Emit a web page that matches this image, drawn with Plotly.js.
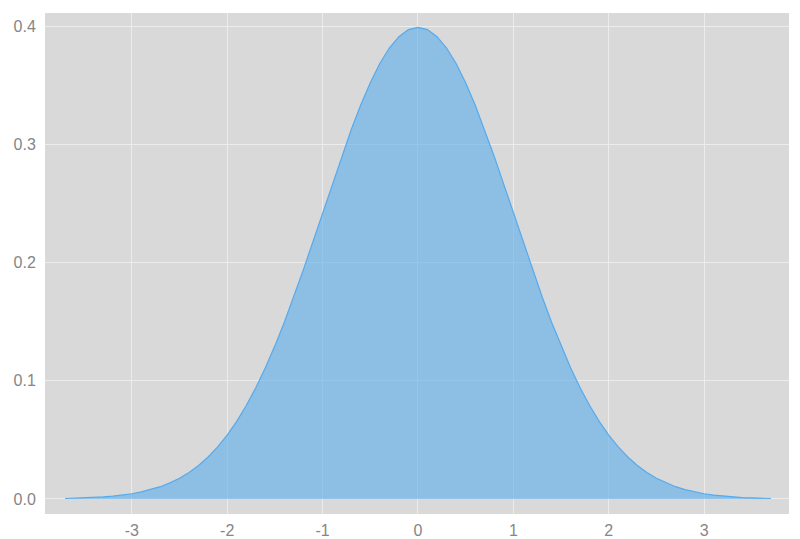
<!DOCTYPE html>
<html>
<head>
<meta charset="utf-8">
<script src="https://cdn.plot.ly/plotly-3.0.1.min.js"></script>
<style>
  html, body { margin: 0; padding: 0; background: #fff; }
  #chart { width: 800px; height: 539px; }
</style>
</head>
<body>
<div id="chart"></div>
<script>
// sample points
const xs = [
  -3.7, -3.6, -3.5, -3.4, -3.3, -3.2, -3.1, -3.0, -2.9, -2.8,
  -2.7, -2.6, -2.5, -2.4, -2.3, -2.2, -2.1, -2.0, -1.9, -1.8,
  -1.7, -1.6, -1.5, -1.4, -1.3, -1.2, -1.1, -1.0, -0.9, -0.8,
  -0.7, -0.6, -0.5, -0.4, -0.3, -0.2, -0.1, 0.0, 0.1, 0.2,
  0.3, 0.4, 0.5, 0.6, 0.7, 0.8, 0.9, 1.0, 1.1, 1.2,
  1.3, 1.4, 1.5, 1.6, 1.7, 1.8, 1.9, 2.0, 2.1, 2.2,
  2.3, 2.4, 2.5, 2.6, 2.7, 2.8, 2.9, 3.0, 3.1, 3.2,
  3.3, 3.4, 3.5, 3.6, 3.7
];
const density = [
  0.0004, 0.0006, 0.0009, 0.0012, 0.0017, 0.0024, 0.0033, 0.0044, 0.0060, 0.0079,
  0.0104, 0.0136, 0.0175, 0.0224, 0.0283, 0.0355, 0.0440, 0.0540, 0.0656, 0.0790,
  0.0940, 0.1109, 0.1295, 0.1497, 0.1714, 0.1942, 0.2179, 0.2420, 0.2661, 0.2897,
  0.3123, 0.3332, 0.3521, 0.3683, 0.3814, 0.3910, 0.3970, 0.3989, 0.3970, 0.3910,
  0.3814, 0.3683, 0.3521, 0.3332, 0.3123, 0.2897, 0.2661, 0.2420, 0.2179, 0.1942,
  0.1714, 0.1497, 0.1295, 0.1109, 0.0940, 0.0790, 0.0656, 0.0540, 0.0440, 0.0355,
  0.0283, 0.0224, 0.0175, 0.0136, 0.0104, 0.0079, 0.0060, 0.0044, 0.0033, 0.0024,
  0.0017, 0.0012, 0.0009, 0.0006, 0.0004
];
const xTicks = [-3, -2, -1, 0, 1, 2, 3];
const yTicks = [0, 0.1, 0.2, 0.3, 0.4];

const trace = {
  x: xs,
  y: density,
  type: 'scatter',
  mode: 'lines',
  fill: 'tozeroy',
  fillcolor: 'rgba(90,172,235,0.6)',
  line: { color: 'rgb(85,170,238)', width: 1.2 },
  hoverinfo: 'skip'
};

const layout = {
  width: 800,
  height: 539,
  margin: { l: 45, r: 11, t: 13, b: 25 },
  paper_bgcolor: '#ffffff',
  plot_bgcolor: '#d9d9d9',
  showlegend: false,
  font: { family: '"Liberation Sans", Arial, sans-serif', size: 16, color: '#868686' },
  xaxis: {
    range: [-3.91, 3.89],
    tickvals: xTicks,
    ticktext: xTicks.map(String),
    tickfont: { size: 16 },
    showgrid: true,
    gridcolor: '#ececec',
    gridwidth: 1,
    zeroline: true,
    zerolinecolor: '#ececec',
    zerolinewidth: 1,
    showline: false,
    ticks: 'outside',
    ticklen: 2,
    tickcolor: 'rgba(0,0,0,0)'
  },
  yaxis: {
    range: [-0.0127, 0.411],
    tickvals: yTicks,
    tickformat: '.1f',
    tickfont: { size: 16 },
    showgrid: true,
    gridcolor: '#ececec',
    gridwidth: 1,
    zeroline: true,
    zerolinecolor: '#ececec',
    zerolinewidth: 1,
    showline: false,
    ticks: 'outside',
    ticklen: 5,
    tickcolor: 'rgba(0,0,0,0)'
  }
};

Plotly.newPlot('chart', [trace], layout, { displayModeBar: false, staticPlot: true });
</script>
</body>
</html>
